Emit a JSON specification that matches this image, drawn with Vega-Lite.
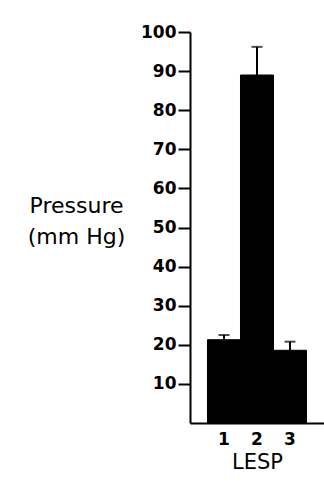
{
  "$schema": "https://vega.github.io/schema/vega-lite/v6.json",
  "width": 134,
  "height": 391,
  "autosize": {"type": "none"},
  "padding": {"left": 190, "top": 32, "right": 0, "bottom": 61},
  "background": "white",
  "config": {
    "view": {"stroke": null},
    "font": "DejaVu Sans",
    "axis": {"grid": false, "domainColor": "black", "domainWidth": 2, "tickColor": "black", "tickWidth": 2, "labelColor": "black", "titleColor": "black", "titleFontWeight": "normal", "labelFontWeight": "bold"}
  },
  "data": {"values": [
    {"LESP": "1", "pressure": 21.3, "upper": 22.5},
    {"LESP": "2", "pressure": 89.0, "upper": 96.2},
    {"LESP": "3", "pressure": 18.6, "upper": 20.8}
  ]},
  "encoding": {
    "x": {"field": "LESP", "type": "ordinal",
      "scale": {"paddingInner": 0, "paddingOuter": 0.53},
      "axis": {"labelAngle": 0, "ticks": false, "tickSize": 0, "labelPadding": 8, "labelFontSize": 17, "title": "LESP", "titleFontSize": 21, "titlePadding": 4}}
  },
  "layer": [
    {
      "mark": {"type": "bar", "color": "black", "stroke": "black", "strokeWidth": 1},
      "encoding": {
        "y": {"field": "pressure", "type": "quantitative",
          "scale": {"domain": [0, 100], "nice": false},
          "axis": {"values": [10, 20, 30, 40, 50, 60, 70, 80, 90, 100], "tickSize": 12, "labelPadding": 2, "labelFontSize": 17,
            "title": ["Pressure", "(mm Hg)"], "titleAngle": 0, "titleAlign": "center", "titleBaseline": "alphabetic",
            "titleX": -114, "titleY": 180, "titleFontSize": 22, "titleLineHeight": 31}}
      }
    },
    {
      "mark": {"type": "rule", "color": "black", "strokeWidth": 2},
      "encoding": {"y": {"field": "pressure", "type": "quantitative"}, "y2": {"field": "upper"}}
    },
    {
      "mark": {"type": "tick", "color": "black", "thickness": 2, "size": 11},
      "encoding": {"y": {"field": "upper", "type": "quantitative"}}
    }
  ]
}
